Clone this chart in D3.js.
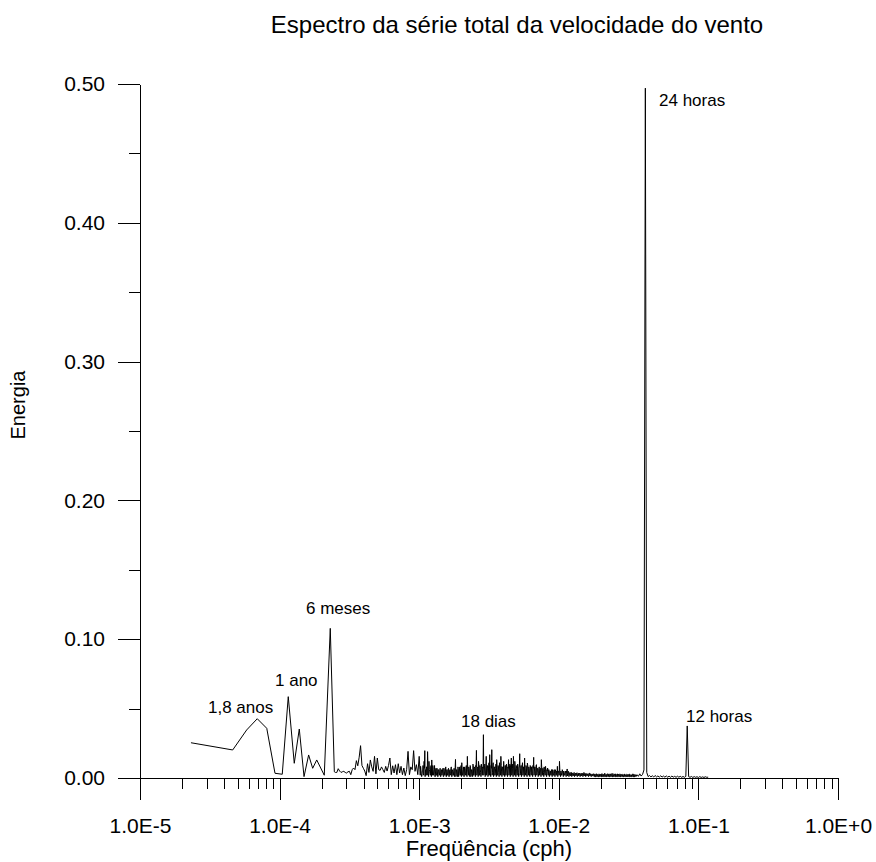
<!DOCTYPE html>
<html>
<head>
<meta charset="utf-8">
<script src="https://cdn.jsdelivr.net/npm/d3@7"></script>
<style>
  html, body { margin: 0; padding: 0; background: #fff; }
  svg { display: block; }
  text { font-family: "Liberation Sans", Arial, Helvetica, sans-serif; fill: #000; }
</style>
</head>
<body>
<svg id="chart" width="876" height="862"></svg>
<script>
// ---------------- DATA ----------------
// Low-frequency (resolved) part of the spectrum: log10(frequency in cph) and energy
const sparseLogFreq = [-4.635, -4.336, -4.236, -4.160, -4.092, -4.033, -3.981, -3.938, -3.895,
  -3.859, -3.825, -3.792, -3.763, -3.734, -3.680, -3.637, -3.608];
const sparseEnergy = [0.0254, 0.0202, 0.0346, 0.0427, 0.0358, 0.0034, 0.0027, 0.0586, 0.0106,
  0.0353, 0.0010, 0.0166, 0.0070, 0.0130, 0.0020, 0.1078, 0.0045];

// Dense part: energies in units of 1e-3, on regular log10-frequency grids (start, step)
const denseA_start = -3.60, denseA_step = 0.01;
const denseA_mE = [4, 4, 6.7, 5, 4, 4.5, 4.8, 4, 3.6, 4.5,
  4.8, 2.4, 6, 7.2, 6, 12.5, 8.8, 15, 23.3, 9,
  7, 5, 1.7, 10.3, 4, 13, 8, 4.8, 15.6, 3,
  14.4, 6, 5.5, 8, 6, 4, 8.4, 5, 9, 14.4,
  2.4, 8.8, 3.6, 9.6, 2.4, 10.3, 3.6, 8.4, 2.4, 7.2,
  1.7, 6, 19.2, 2.4, 8, 6, 19.7, 4.8, 9.6, 2.4,
  15.6];

const denseB_start = -2.995, denseB_step = 0.005;
const denseB_mE = [
  6, 8.4, 3, 1.7, 5, 3, 12, 19.7, 6, 2,
  8, 19, 3, 12, 5, 2, 9, 13, 2, 6,
  3, 9, 1, 7, 2, 5, 1, 6, 2, 7,
  1, 6, 3, 7, 1, 5, 2, 8, 1, 6,
  2, 7, 1, 6, 3, 8, 1, 5, 2, 7,
  3, 13.4, 2, 6, 1, 7, 3, 8, 2, 9,
  11, 2, 6, 1, 8, 3, 7, 2, 15.6, 4,
  8, 2, 9, 1, 6, 3, 10, 2, 7, 3,
  9, 19.9, 3, 8, 12, 2, 9, 4, 10, 3,
  8, 31.2, 3, 10, 2, 15.6, 4, 9, 2, 11,
  16.8, 3, 9, 20.4, 4, 11, 2, 8, 3, 10,
  13.2, 2, 9, 4, 11, 3, 15.6, 5, 8, 3,
  12, 3, 9, 2, 10, 4, 8, 13.2, 3, 10,
  9, 14.4, 3, 10, 15.6, 4, 12, 5, 9, 3,
  10, 4, 8, 17.5, 3, 9, 5, 11, 3, 8,
  14.4, 4, 9, 3, 10.8, 5, 8, 3, 9, 4,
  8, 3, 9, 14.9, 5, 8, 3, 9.6, 4, 7,
  3, 8, 4, 7, 13.2, 3, 7, 4, 8, 3,
  8.4, 3, 6, 7.2, 2, 6, 3, 5, 2, 6,
  6, 2, 5, 3, 6, 2, 5, 8.4, 3, 5,
  12, 3, 5, 2, 6, 3, 5, 2, 4, 3,
  5, 6.5, 2, 4.8, 2, 4, 2, 4, 1.5, 3.5,
  2, 4, 1.5, 3.5, 2, 3.8, 1.5, 3.5, 2, 3,
  1.5, 3.5, 2, 3, 1.5, 4, 2, 3, 1.5, 3.2,
  2, 3, 1.5, 3.5, 1.5, 3, 2, 2.8, 1.5, 3,
  1, 2.8, 0.8, 3, 1, 2.5, 0.8, 2.8, 1, 2.4,
  0.8, 3.2, 1, 2.5, 0.8, 3.5, 1, 2.6, 0.8, 3,
  1, 3, 0.8, 2.8, 1, 3.2, 0.8, 2.5, 1, 2.8,
  0.8, 2.6, 1, 3, 0.8, 2.4, 1, 2.8, 0.8, 2.5,
  1, 2.4, 0.8, 2.8, 0.8, 2.2, 1, 2.6, 0.8, 2.4,
  0.8, 2.6, 1, 2.2, 0.8, 3, 0.8, 2.4, 1, 2.2];

// In-between harmonics of the dense band (interleaved with denseB)
const denseB2_start = -2.9925, denseB2_step = 0.005;
const denseB2_mE = [
  2, 6, 1, 5, 9, 2, 7, 1, 4, 8,
  2, 10, 1, 6, 3, 8, 1, 5, 9, 2,
  6, 1, 5, 2, 7, 1, 6, 3, 5, 1,
  5, 2, 6, 1, 7, 2, 5, 1, 6, 2,
  6, 1, 5, 2, 7, 1, 6, 2, 5, 1,
  7, 1, 6, 2, 8, 1, 5, 2, 7, 1,
  6, 2, 8, 1, 7, 2, 9, 1, 6, 2,
  7, 1, 8, 2, 6, 1, 9, 2, 8, 1,
  8, 2, 7, 1, 9, 2, 6, 1, 8, 2,
  7, 2, 9, 1, 8, 2, 7, 1, 9, 2,
  8, 1, 7, 2, 9, 1, 8, 2, 7, 1,
  9, 2, 8, 1, 7, 2, 9, 1, 8, 2,
  7, 1, 9, 2, 8, 1, 7, 2, 9, 1,
  8, 2, 7, 1, 9, 2, 8, 1, 7, 2,
  9, 1, 8, 2, 7, 1, 9, 2, 8, 1,
  7, 2, 8, 1, 9, 2, 7, 1, 8, 2,
  8, 1, 7, 2, 8, 1, 9, 2, 7, 1,
  7, 2, 6, 1, 8, 2, 7, 1, 6, 2,
  6, 1, 5, 2, 6, 1, 5, 2, 6, 1,
  5, 2, 6, 1, 5, 2, 4, 1, 5, 2,
  5, 1, 4, 2, 5, 1, 4, 2, 5, 1,
  4, 1.5, 4, 1, 3.5, 1.5, 4, 1, 3.5, 1.5,
  3.5, 1, 3, 1.5, 3.5, 1, 3, 1.5, 3.5, 1,
  3, 1.5, 3.5, 1, 3, 1.5, 3.5, 1, 3, 1.5,
  3, 1, 3.5, 1.5, 3, 1, 2.8, 1.5, 3, 1,
  2.8, 0.8, 3, 1, 2.6, 0.8, 3, 1, 2.8, 0.8,
  3, 1, 2.8, 0.8, 3.2, 1, 2.6, 0.8, 3, 1,
  2.8, 0.8, 3, 1, 2.6, 0.8, 3.2, 1, 2.8, 0.8,
  3, 1, 2.6, 0.8, 2.8, 1, 3, 0.8, 2.6, 1,
  2.6, 0.8, 2.8, 1, 2.4, 0.8, 2.8, 1, 2.6, 0.8,
  2.8, 1, 2.4, 0.8, 2.6, 1, 2.8, 0.8, 2.4, 1];

// High-frequency tail incl. the 24 h and 12 h lines
const denseC_start = -1.44, denseC_step = 0.01;
const denseC_mE = [2.4, 1.2, 3, 1.4, 2.6, 5.8, 497, 4, 1, 1.8,
  0.8, 1.6, 0.7, 1.8, 0.8, 1.5, 0.6, 1.6, 0.7, 1.4,
  0.6, 1.5, 0.6, 1.3, 0.5, 1.4, 0.6, 1.2, 0.5, 1.3,
  0.6, 1.2, 0.5, 1.1, 0.5, 1.2, 37.5, 1.0, 0.5, 1.1,
  0.4, 1.0, 0.5, 0.9, 0.4, 1.0, 0.4, 0.8, 0.4, 0.9,
  0.5, 0.6];

// Axis ticks
const yMajorTicks = [0.0, 0.1, 0.2, 0.3, 0.4, 0.5];
const yMinorTicks = [0.05, 0.15, 0.25, 0.35, 0.45];
const xMajorTicks = [1e-5, 1e-4, 1e-3, 1e-2, 1e-1, 1];
const xTickLabels = ["1.0E-5", "1.0E-4", "1.0E-3", "1.0E-2", "1.0E-1", "1.0E+0"];
const xMinorMultipliers = [2, 3, 4, 5, 6, 7, 8, 9];

// Annotations
const annotationText = ["1,8 anos", "1 ano", "6 meses", "18 dias", "24 horas", "12 horas"];
const annotationX = [208, 275, 306, 461, 659, 686];
const annotationY = [713, 686, 614, 727, 106, 722];

const titleText = "Espectro da série total da velocidade do vento";
const xTitle = "Freqüência (cph)";
const yTitle = "Energia";

// ---------------- BUILD SERIES ----------------
const series = [];
sparseLogFreq.forEach((lf, i) => series.push({ f: Math.pow(10, lf), e: sparseEnergy[i] }));
function addDense(start, step, vals) {
  vals.forEach((v, i) => series.push({ f: Math.pow(10, start + i * step), e: v / 1000 }));
}
addDense(denseA_start, denseA_step, denseA_mE);
addDense(denseB_start, denseB_step, denseB_mE);
addDense(denseB2_start, denseB2_step, denseB2_mE);
addDense(denseC_start, denseC_step, denseC_mE);
series.sort((a, b) => a.f - b.f);

// ---------------- DRAW ----------------
const svg = d3.select("#chart");
svg.append("rect").attr("width", 876).attr("height", 862).attr("fill", "#fff");

const x = d3.scaleLog().domain([1e-5, 1]).range([140, 838]);
const y = d3.scaleLinear().domain([0, 0.5]).range([778, 84]);

// Data line
svg.append("path")
  .datum(series)
  .attr("fill", "none")
  .attr("stroke", "#000")
  .attr("stroke-width", 1)
  .attr("d", d3.line().x(d => x(d.f)).y(d => y(d.e)));

// Y axis
const yAxis = svg.append("g").attr("transform", "translate(140,0)")
  .call(d3.axisLeft(y).tickValues(yMajorTicks).tickSize(22).tickSizeOuter(0)
    .tickPadding(13).tickFormat(d3.format(".2f")));
yAxis.selectAll("text").style("font-size", "21px");
svg.append("g").attr("transform", "translate(140,0)")
  .call(d3.axisLeft(y).tickValues(yMinorTicks).tickSize(11).tickSizeOuter(0).tickFormat(""))
  .select(".domain").remove();

// X axis
const xMinor = [];
xMajorTicks.slice(0, -1).forEach(t => xMinorMultipliers.forEach(m => xMinor.push(t * m)));
const xAxis = svg.append("g").attr("transform", "translate(0,778)")
  .call(d3.axisBottom(x).tickValues(xMajorTicks).tickSize(22).tickSizeOuter(0)
    .tickPadding(18).tickFormat((d, i) => xTickLabels[i]));
xAxis.selectAll("text").style("font-size", "21px");
svg.append("g").attr("transform", "translate(0,778)")
  .call(d3.axisBottom(x).tickValues(xMinor).tickSize(11).tickSizeOuter(0).tickFormat(""))
  .select(".domain").remove();

svg.selectAll(".domain, .tick line").attr("stroke", "#000").attr("shape-rendering", "crispEdges");

// Titles
svg.append("text").attr("x", 517).attr("y", 33).attr("text-anchor", "middle")
  .style("font-size", "24px").text(titleText);
svg.append("text").attr("x", 489).attr("y", 856).attr("text-anchor", "middle")
  .style("font-size", "22px").text(xTitle);
svg.append("text").attr("transform", "translate(25,405) rotate(-90)")
  .attr("text-anchor", "middle").style("font-size", "20px").text(yTitle);

// Annotations
annotationText.forEach((t, i) => {
  svg.append("text").attr("x", annotationX[i]).attr("y", annotationY[i])
    .style("font-size", "17px").text(t);
});
</script>
</body>
</html>
